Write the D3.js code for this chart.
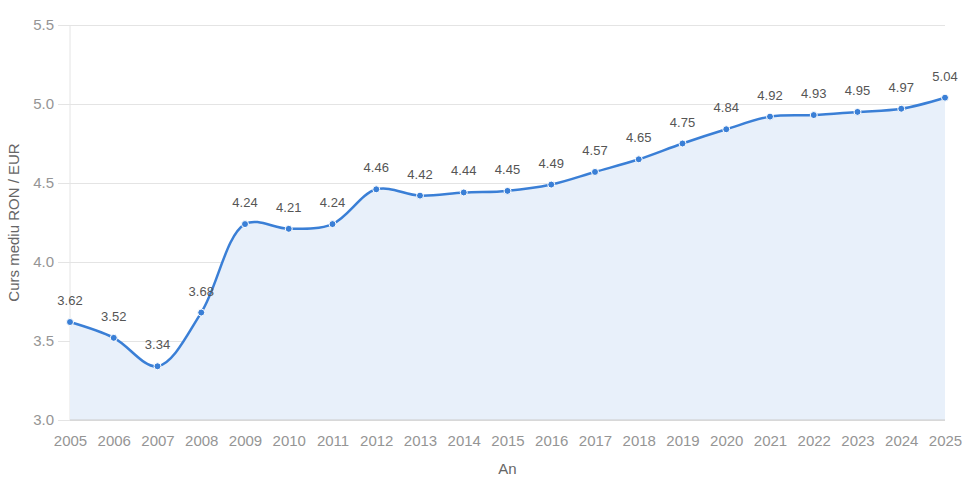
<!DOCTYPE html>
<html>
<head>
<meta charset="utf-8">
<script src="https://cdn.jsdelivr.net/npm/d3@7"></script>
<style>
  body { margin: 0; background: #fff; }
  svg { display: block; font-family: "Liberation Sans", Arial, sans-serif; }
</style>
</head>
<body>
<div id="chart"></div>
<script>
// ani si curs mediu RON / EUR
var years = [2005, 2006, 2007, 2008, 2009, 2010, 2011, 2012, 2013, 2014, 2015,
	2016, 2017, 2018, 2019, 2020, 2021, 2022, 2023, 2024, 2025];
var rates = [3.62, 3.52, 3.34, 3.68, 4.24, 4.21, 4.24, 4.46, 4.42, 4.44, 4.45,
	4.49, 4.57, 4.65, 4.75, 4.84, 4.92, 4.93, 4.95, 4.97, 5.04];
var yTicks = [3.0, 3.5, 4.0, 4.5, 5.0, 5.5];

var w = 968, h = 486;
var margin = { top: 25, right: 23, bottom: 66, left: 70 },
	width = w - margin.left - margin.right,
	height = h - margin.top - margin.bottom;

var data = years.map(function(y, i) {
	return { year: y, value: rates[i] };
});

var xScale = d3.scalePoint().domain(years).range([ 0, width ]);
var yScale = d3.scaleLinear().domain([ 3.0, 5.5 ]).range([ height, 0 ]);

var svg = d3
	.select('#chart')
	.append('svg')
	.attr('width', w)
	.attr('height', h);

var g = svg.append('g').attr('transform', 'translate(' + margin.left + ',' + margin.top + ')');

// grid + y ticks
var yAxis = d3.axisLeft(yScale).tickValues(yTicks).tickSize(-width).tickPadding(16)
	.tickFormat(d3.format('.1f'));
var gy = g.append('g').call(yAxis);
gy.select('.domain').remove();
gy.selectAll('.tick line').attr('stroke', '#e4e4e4').attr('x1', -12);
gy.selectAll('.tick text').attr('fill', '#959595').style('font-size', '15px');

g.append('line')
	.attr('x1', 0).attr('x2', 0).attr('y1', 0).attr('y2', height)
	.attr('stroke', '#e4e4e4');

var xAxis = d3.axisBottom(xScale).tickSize(0).tickPadding(15);
var gx = g.append('g').attr('transform', 'translate(0,' + height + ')').call(xAxis);
gx.select('.domain').remove();
gx.selectAll('.tick text').attr('fill', '#959595').style('font-size', '15px');

var curve = d3.curveCatmullRom.alpha(0.5);

var area = d3.area()
	.x(function(d) { return xScale(d.year); })
	.y0(height)
	.y1(function(d) { return yScale(d.value); })
	.curve(curve);

var line = d3.line()
	.x(function(d) { return xScale(d.year); })
	.y(function(d) { return yScale(d.value); })
	.curve(curve);

g.append('path').datum(data).attr('d', area).attr('fill', '#e8f0fa');

g.append('line')
	.attr('x1', 0).attr('x2', width).attr('y1', height).attr('y2', height)
	.attr('stroke', '#ccc');

g.append('path').datum(data).attr('d', line)
	.attr('fill', 'none')
	.attr('stroke', '#3a7fd6')
	.attr('stroke-width', 2.5);

g.selectAll('.pt').data(data).enter()
	.append('circle')
	.attr('class', 'pt')
	.attr('cx', function(d) { return xScale(d.year); })
	.attr('cy', function(d) { return yScale(d.value); })
	.attr('r', 3.5)
	.attr('fill', '#3a7fd6')
	.attr('stroke', '#fff')
	.attr('stroke-width', 1);

g.selectAll('.lbl').data(data).enter()
	.append('text')
	.attr('class', 'lbl')
	.attr('x', function(d) { return xScale(d.year); })
	.attr('y', function(d) { return yScale(d.value) - 17; })
	.attr('text-anchor', 'middle')
	.attr('fill', '#555')
	.style('font-size', '13px')
	.text(function(d) { return d.value.toFixed(2); });

// titluri axe
svg.append('text')
	.attr('transform', 'translate(19,' + (margin.top + height / 2) + ') rotate(-90)')
	.attr('text-anchor', 'middle')
	.attr('fill', '#666')
	.style('font-size', '15px')
	.text('Curs mediu RON / EUR');

svg.append('text')
	.attr('x', margin.left + width / 2)
	.attr('y', 474)
	.attr('text-anchor', 'middle')
	.attr('fill', '#666')
	.style('font-size', '15px')
	.text('An');
</script>
</body>
</html>
